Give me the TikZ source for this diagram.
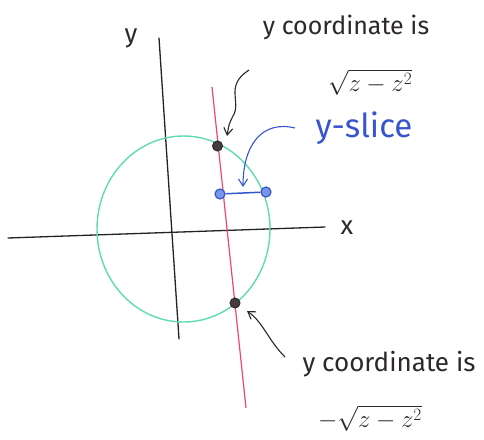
\documentclass[tikz,border=0pt]{standalone}
\usepackage{fontspec}
\setmainfont{Fira Sans}
\usetikzlibrary{arrows.meta,shapes.geometric}
\definecolor{inkgray}{RGB}{45,40,42}
\definecolor{axisgray}{RGB}{35,35,35}
\definecolor{circgreen}{RGB}{95,220,175}
\definecolor{slicered}{RGB}{238,70,110}
\definecolor{penblue}{RGB}{55,85,205}
\definecolor{dotfill}{RGB}{70,60,62}
\definecolor{bluefill}{RGB}{120,150,235}
\begin{document}
\begin{tikzpicture}[x=1pt,y=-1pt,
  axis/.style={draw=axisgray, line width=1.3pt, line cap=round},
  circ/.style={draw=circgreen, line width=1.4pt, ellipse, minimum width=173pt, minimum height=186pt, inner sep=0pt},
  redline/.style={draw=slicered, line width=1.2pt},
  bdot/.style={circle, draw=inkgray, fill=dotfill, line width=1pt, minimum width=10pt, inner sep=0pt},
  bluedot/.style={circle, draw=penblue, fill=bluefill, line width=1.2pt, minimum width=10pt, inner sep=0pt},
  bluecon/.style={draw=penblue, line width=1.5pt},
  lbl/.style={font=\fontsize{26}{28}\selectfont, text=inkgray, inner sep=0pt},
  axlbl/.style={font=\fontsize{26}{28}\selectfont, text=inkgray, inner sep=0pt},
  mathlbl/.style={font=\fontsize{27}{30}\selectfont, text=inkgray, inner sep=0pt},
  bluelbl/.style={font=\fontsize{33}{36}\selectfont, text=penblue, inner sep=0pt},
  ann/.style={draw=inkgray, line width=1.1pt, -{Straight Barb[length=7pt,width=9pt]}},
  blueann/.style={draw=penblue, line width=1.1pt, -{Straight Barb[length=7pt,width=9pt]}}]
\useasboundingbox (0,0) rectangle (484,439);
\fill[white] (0,0) rectangle (484,439);

% axes
\coordinate (ytop) at (159,38);
\coordinate (ybot) at (179,339);
\draw[axis] (ytop) -- (ybot);
\coordinate (xl) at (8,238);
\coordinate (xr) at (325,227);
\draw[axis] (xl) -- (xr);
\node[axlbl] (ylab) at (131,38) {y};
\node[axlbl] (xlab) at (347,228) {x};

% circle
\node[circ] (disk) at (183.5,229) {};

% red slice line
\coordinate (rtop) at (212,87);
\coordinate (rbot) at (246,408);
\draw[redline] (rtop) -- (rbot);

% points
\node[bdot] (tdot) at (217.5,146) {};
\node[bdot] (bdot) at (235,303) {};
\node[bluedot] (bl) at (220,194) {};
\node[bluedot] (br) at (266,192) {};
\draw[bluecon] (bl) -- (br);

% labels
\node[lbl, font=\fontsize{25}{28}\selectfont] (toptext) at (346,27) {y coordinate is};
\node[mathlbl] (topsqrt) at (370,82) {$\sqrt{z-z^{2}}$};
\node[bluelbl] (slicelbl) at (364,128) {y-slice};
\node[lbl] (bottext) at (389,364) {y coordinate is};
\node[mathlbl] (botsqrt) at (370,418) {$-\sqrt{z-z^{2}}$};

% annotation arrows
\coordinate (ta) at (249,70);
\coordinate (tb) at (227,136);
\draw[ann] (ta) .. controls (224,86) and (242,102) .. (233,116) .. controls (229,124) .. (tb);
\coordinate (sa) at (295,128);
\coordinate (sb) at (243,187);
\draw[blueann] (sa) .. controls (262,120) and (243,145) .. (sb);
\coordinate (ba) at (285,357);
\coordinate (bb) at (247,311);
\draw[ann] (ba) .. controls (268,340) and (263,322) .. (bb);
\end{tikzpicture}
\end{document}
